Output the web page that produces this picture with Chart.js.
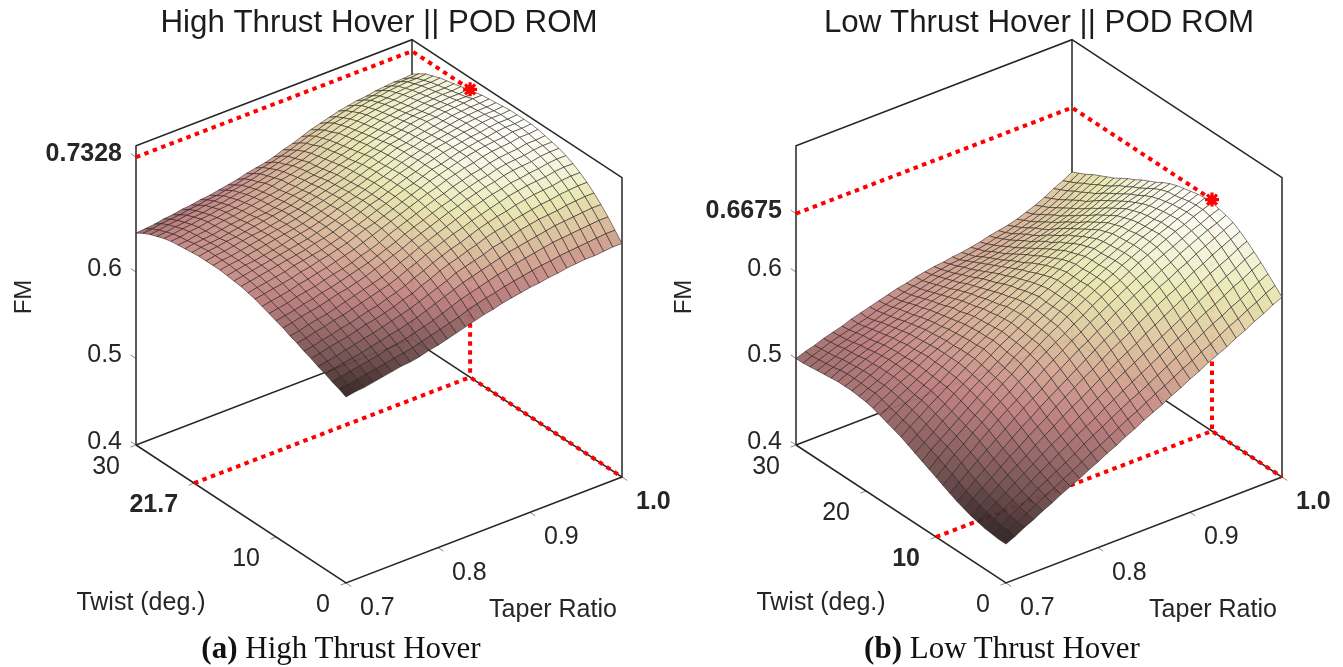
<!DOCTYPE html>
<html><head><meta charset="utf-8">
<script src="https://cdn.jsdelivr.net/npm/chart.js@4"></script>
<style>
html,body{margin:0;padding:0;background:#fff;width:1343px;height:667px;overflow:hidden}
canvas{position:absolute;top:0}
.cap{position:absolute;top:630px;font:31px "Liberation Serif",serif;color:#111;white-space:nowrap;transform:translateX(-50%)}
</style></head><body>
<canvas id="a" width="683" height="667" style="left:0;width:683px;height:667px"></canvas>
<canvas id="b" width="683" height="667" style="left:660px;width:683px;height:667px"></canvas>
<div class="cap" style="left:341px"><b>(a)</b> High Thrust Hover</div>
<div class="cap" style="left:1002px"><b>(b)</b> Low Thrust Hover</div>
<script>
const taperRatio=[0.70,0.71,0.72,0.73,0.74,0.75,0.76,0.77,0.78,0.79,0.80,0.81,0.82,0.83,0.84,0.85,0.86,0.87,0.88,0.89,0.90,0.91,0.92,0.93,0.94,0.95,0.96,0.97,0.98,0.99,1.00];
const twistDeg=[0,1,2,3,4,5,6,7,8,9,10,11,12,13,14,15,16,17,18,19,20,21,22,23,24,25,26,27,28,29,30];
// FM x 1000, one row per twist value, one column per taper ratio
const highThrustFM=[
[615,617,618,620,622,624,626,627,629,632,634,637,640,643,646,649,651,654,656,658,660,661,663,664,666,667,668,668,669,670,670],
[619,620,622,624,626,628,630,632,634,637,640,643,646,649,653,656,659,661,664,666,668,670,672,673,675,676,677,678,679,680,680],
[622,624,626,628,630,632,635,637,639,642,645,648,652,656,660,663,666,669,672,674,677,679,681,683,685,686,687,688,689,690,690],
[626,628,630,632,634,637,639,642,644,647,650,654,658,662,666,670,673,676,679,682,685,687,689,691,693,695,696,697,698,699,699],
[629,631,633,636,638,641,643,646,649,652,655,659,663,667,671,676,679,682,685,689,691,694,697,699,701,702,703,705,706,707,707],
[633,635,638,640,642,645,648,650,653,656,660,663,668,672,677,681,684,688,691,695,698,700,703,705,707,709,710,712,713,714,714],
[636,638,641,643,646,648,651,654,656,660,663,667,672,676,681,685,689,692,696,700,703,706,708,711,713,715,716,717,719,720,720],
[640,642,645,647,650,652,655,658,661,664,667,671,676,680,685,689,693,697,700,704,707,710,713,716,718,720,721,722,724,725,725],
[643,645,648,650,652,655,658,661,664,667,670,674,679,683,688,692,696,700,704,708,711,714,717,719,722,723,725,726,728,729,729],
[647,649,652,654,656,659,662,664,667,670,674,678,682,686,691,695,699,703,707,710,714,717,720,722,725,727,728,729,731,732,732],
[650,652,654,657,659,662,664,667,670,673,676,680,684,688,693,697,701,705,709,712,716,719,722,724,727,729,730,731,733,734,734],
[653,655,657,660,662,664,667,670,672,675,679,682,686,691,695,699,703,707,711,714,718,721,724,726,729,731,732,733,735,735,736],
[656,658,660,662,665,667,670,672,675,678,681,685,689,693,697,701,705,709,713,716,720,723,726,728,731,733,734,735,737,737,738],
[659,661,663,665,667,670,672,675,677,680,683,687,691,694,698,702,706,710,714,718,721,724,727,730,732,734,735,736,738,738,739],
[661,663,665,667,669,672,674,676,678,681,684,688,691,695,699,703,707,711,714,718,722,724,727,730,732,734,735,737,738,738,739],
[663,665,667,669,671,673,675,677,680,682,685,689,692,696,700,703,707,711,715,718,722,725,728,730,732,734,735,737,738,738,739],
[664,666,668,670,672,674,676,678,680,683,686,689,693,696,700,703,707,711,715,718,722,725,728,730,732,734,735,737,738,738,739],
[665,667,669,670,672,674,676,679,681,683,686,689,693,696,699,703,707,710,714,718,721,724,727,729,731,733,735,736,737,737,738],
[666,668,669,671,673,675,677,679,681,683,686,689,692,696,699,702,706,710,713,717,721,723,726,728,730,732,734,735,736,736,737],
[666,668,669,671,673,675,677,679,681,683,686,689,692,695,698,701,705,709,712,716,720,722,725,727,729,731,733,734,735,735,736],
[666,668,669,671,673,675,676,678,680,683,685,688,691,694,697,700,704,708,712,715,719,721,724,726,729,730,732,733,734,735,735],
[666,668,669,671,672,674,676,678,680,682,684,687,690,693,696,699,703,706,710,713,717,720,722,725,727,728,730,731,732,732,733],
[665,667,668,669,671,673,675,677,678,680,683,686,688,691,694,697,701,704,708,712,715,718,720,723,725,726,728,729,730,730,731],
[664,666,667,668,670,672,673,675,677,679,681,684,687,690,692,695,699,703,706,710,713,716,719,721,723,724,726,727,728,728,729],
[663,664,666,667,669,671,672,674,676,678,680,682,685,688,691,693,697,701,704,708,711,714,717,719,721,722,724,725,726,726,727],
[662,663,665,666,668,669,671,672,674,676,678,681,684,686,689,692,695,699,702,706,709,712,715,717,719,720,722,723,724,724,725],
[660,661,663,664,666,667,669,670,672,674,676,679,681,684,687,689,693,697,700,704,707,710,713,715,717,718,720,721,722,722,723],
[657,658,660,661,663,664,666,667,669,671,673,675,678,681,683,686,690,693,697,700,704,707,710,712,714,715,717,718,719,719,720],
[654,655,657,658,660,661,663,664,666,668,670,672,675,677,680,683,686,690,694,697,701,703,706,709,711,712,714,715,716,716,717],
[650,651,653,654,655,657,658,660,661,663,665,668,670,673,675,678,681,685,689,692,696,699,702,704,706,707,709,710,711,711,712],
[645,646,647,649,650,652,653,655,656,658,660,662,665,667,669,672,676,679,683,687,690,693,696,698,700,701,703,704,705,705,706]];
const lowThrustFM=[
[445,450,456,461,467,472,478,483,488,494,499,505,510,516,521,527,532,537,543,548,554,559,565,570,575,581,586,592,597,603,608],
[445,451,457,463,469,475,480,486,492,498,504,509,515,521,527,532,538,544,549,555,561,566,572,577,583,589,594,600,605,611,616],
[446,452,459,465,471,478,484,490,496,502,509,515,521,527,533,539,544,550,556,562,568,574,579,585,591,596,602,607,613,619,624],
[447,454,461,468,474,481,488,494,501,507,514,520,526,533,539,545,551,557,563,569,575,581,587,593,599,604,610,616,621,627,632],
[449,456,464,471,478,485,492,499,506,512,519,526,532,539,545,552,558,564,570,576,582,588,594,600,606,612,617,623,628,634,639],
[451,459,466,474,482,489,496,504,511,518,525,532,538,545,552,558,565,571,577,584,590,596,602,608,613,619,625,630,635,641,646],
[454,462,470,478,486,494,501,509,516,523,531,538,545,552,558,565,572,578,584,591,597,603,609,614,620,626,631,637,642,647,652],
[457,465,474,482,490,498,506,514,521,529,536,543,550,557,564,571,578,584,590,597,603,609,615,620,626,631,637,642,647,652,657],
[461,470,478,487,495,503,511,519,527,534,541,549,556,563,570,576,583,589,596,602,608,614,619,625,630,636,641,646,651,655,660],
[465,474,483,491,500,508,516,524,531,539,546,554,561,568,575,581,588,594,600,606,612,618,623,629,634,639,644,649,653,658,662],
[469,478,487,495,504,512,520,528,535,543,550,558,565,572,578,585,591,598,604,610,615,621,627,632,637,642,647,651,656,660,664],
[473,482,491,499,507,515,523,531,539,546,554,561,568,575,581,588,594,600,606,612,617,623,628,633,638,643,647,652,656,660,664],
[477,486,494,502,510,518,526,534,541,548,556,563,569,576,582,589,595,601,607,612,618,623,628,633,638,642,647,651,655,659,663],
[481,489,497,506,513,521,529,536,543,550,557,564,570,577,583,589,595,601,606,612,617,622,627,632,637,641,645,650,654,657,661],
[485,493,501,509,516,524,531,538,545,552,559,565,571,578,584,589,595,601,606,611,617,621,626,631,635,640,644,648,652,655,659],
[489,497,504,512,519,526,533,540,547,554,560,566,572,578,584,590,595,601,606,611,616,621,625,630,634,638,642,646,650,654,657],
[492,499,507,514,521,527,534,541,547,553,559,565,571,577,583,588,593,599,604,609,613,618,623,627,631,635,639,643,647,651,654],
[495,502,509,515,522,528,535,541,547,553,559,564,570,576,581,586,591,596,601,606,610,615,619,624,628,632,636,639,643,647,650],
[498,504,511,517,523,529,535,541,546,552,558,563,568,573,578,583,588,593,598,602,607,611,615,619,623,627,631,635,638,642,645],
[501,507,513,519,524,530,536,541,546,551,557,562,567,571,576,581,585,589,594,598,602,606,610,614,618,622,626,630,634,637,641],
[503,509,514,520,525,530,535,540,545,550,555,560,564,569,573,578,582,586,590,594,598,602,606,609,613,617,621,625,629,633,637],
[504,509,514,520,525,529,534,539,544,548,553,557,562,566,570,574,578,582,585,589,593,596,600,604,607,611,615,620,624,628,632],
[505,510,515,520,525,529,534,538,543,547,551,556,560,564,567,571,575,578,581,585,588,592,595,599,602,606,610,615,619,624,628],
[505,510,515,519,524,528,532,537,541,545,549,553,557,561,564,568,571,574,577,580,583,587,590,593,597,600,604,609,614,618,623],
[505,510,514,519,523,527,531,535,539,543,547,550,554,558,561,564,567,570,572,575,578,581,584,587,591,595,599,603,608,613,618],
[504,509,513,517,521,525,529,533,537,540,544,548,551,554,557,560,563,566,568,570,573,577,579,582,586,589,594,599,604,609,614],
[503,507,512,516,520,523,527,531,534,538,542,545,548,551,554,557,559,562,564,566,569,572,575,578,581,585,589,594,599,604,610],
[502,506,510,515,518,522,525,529,532,536,539,542,545,548,551,553,556,558,560,562,564,567,570,573,576,580,584,589,595,600,606],
[501,505,509,513,516,520,523,526,530,533,536,539,542,545,548,550,552,554,555,557,560,563,565,568,571,575,579,584,590,595,601],
[500,504,508,512,515,518,521,524,528,531,534,537,540,542,545,547,549,550,552,554,556,559,561,564,567,570,575,580,586,591,597],
[500,504,507,511,514,517,521,524,527,530,533,536,538,541,543,545,546,548,549,551,553,556,558,560,563,567,571,576,582,587,593]];
const fmTicksHigh=[0.4,0.5,0.6,0.7328];
const fmTicksLow=[0.4,0.5,0.6,0.6675];
const twistTicksHigh=[0,10,21.7,30];
const twistTicksLow=[0,10,20,30];
const taperTicks=[0.7,0.8,0.9,1.0];
const taperTickLabels=['0.7','0.8','0.9','1.0'];
const optimumHigh={taper:1.0,twist:21.7,fm:0.7328};
const optimumLow={taper:1.0,twist:10,fm:0.6675};

const INK='#262626',FONT='"Liberation Sans",Arial,sans-serif';
const STOPS=[[0,45,30,30],[.125,110,75,75],[.25,152,102,102],[.37,192,128,128],[.5,210,165,145],[.625,222,200,160],[.75,231,230,175],[.875,243,243,215],[1,255,255,250]];
function colour(n){
  for(let k=1;k<STOPS.length;k++){ if(n<=STOPS[k][0]){
    const a=STOPS[k-1],b=STOPS[k],u=(n-a[0])/(b[0]-a[0]);
    return `rgba(${[1,2,3].map(c=>Math.round(a[c]+(b[c]-a[c])*u)).join(',')},0.96)`;
  }}
  return 'rgba(255,255,250,0.96)';
}
const RX=276,LX=210,UP=865,FR=106,BK=138,ZTOP=0.746;
function P(t,tw,z){const f=(t-0.7)/0.3,w=tw/30;return {x:f*RX-w*LX,y:z-(1-w)*BK/UP+f*FR/UP};}

function build(cfg){
  const Z=cfg.fm,all=Z.flat(),mn=Math.min(...all),mx=Math.max(...all);
  const ds=[];
  const seg=(pts,color,width,dash)=>({type:'line',data:pts,borderColor:color,borderWidth:width,borderDash:dash||[],pointRadius:0,fill:false,clip:false,tension:0,spanGaps:true});
  const op=cfg.opt;
  ds.push({type:'line',data:[P(op.taper,op.twist,op.fm)],showLine:false,pointStyle:'star',pointRadius:7,pointBorderColor:'#ff0000',pointBorderWidth:3.2,pointBackgroundColor:'#ff0000',clip:false});
  const cells=[];
  for(let j=0;j<30;j++)for(let i=0;i<30;i++)cells.push([i,j]);
  cells.sort((p,q)=>(p[0]+p[1])-(q[0]+q[1]));
  for(const [i,j] of cells){
    const c=[[i,j],[i+1,j],[i+1,j+1],[i,j+1],[i,j]];
    const avg=(Z[j][i]+Z[j][i+1]+Z[j+1][i]+Z[j+1][i+1])/4;
    ds.push({type:'line',data:c.map(([a,b])=>P(taperRatio[a],twistDeg[b],Z[b][a]/1000)),fill:'shape',backgroundColor:colour((avg-mn)/(mx-mn)),
      borderColor:'rgba(35,28,28,0.62)',borderWidth:0.9,pointRadius:0,clip:false,tension:0,spanGaps:true});
  }
  const R='#ff0000',dot=[4.5,4.5];
  ds.push(seg([P(0.7,30,op.fm),P(1,30,op.fm),P(op.taper,op.twist,op.fm)],R,4,dot));
  ds.push(seg([P(op.taper,op.twist,op.fm),P(op.taper,op.twist,0.4)],R,4,dot));
  ds.push(seg([P(0.7,op.twist,0.4),P(op.taper,op.twist,0.4),P(1,0,0.4)],R,4,dot));
  // box
  const B=INK,bw=1.5;
  ds.push(seg([P(1,0,0.4),P(1,0,ZTOP),P(1,30,ZTOP),P(0.7,30,ZTOP),P(0.7,30,0.4)],B,bw));
  ds.push(seg([P(1,30,0.4),P(1,30,ZTOP)],B,bw));
  ds.push(seg([P(0.7,30,0.4),P(1,30,0.4),P(1,0,0.4),P(0.7,0,0.4),P(0.7,30,0.4)],B,bw));
  // ticks
  const T='#8a8a8a';
  for(const v of cfg.fmTicks) ds.push(seg([P(0.7,30,v),P(0.7,30.75,v)],T,1));
  for(const v of cfg.twistTicks) ds.push(seg([P(0.7,v,0.4),P(0.694,v,0.4)],T,1));
  for(const v of taperTicks) ds.push(seg([P(v,0,0.4),P(v,-0.75,0.4)],T,1));

  const labels={id:'labels3d',afterDraw(ch){
    const c=ch.ctx,x=ch.scales.x,y=ch.scales.y;
    const at=(p)=>[x.getPixelForValue(p.x),y.getPixelForValue(p.y)];
    const put=(s,px,py,al,bold,size)=>{c.font=(bold?'bold ':'')+size+'px '+FONT;c.textAlign=al;c.textBaseline='middle';c.fillStyle=INK;c.fillText(s,px,py);};
    c.save();
    cfg.twistTicks.forEach(v=>{const [a,b]=at(P(0.7,v,0.4));put(String(v),a-16,b+22,'right',v===op.twist,25);});
    taperTicks.forEach((v,k)=>{const [a,b]=at(P(v,0,0.4));put(taperTickLabels[k],a+14,b+25,'left',v===op.taper,25);});
    const m=at(P(0.7,15,0.4));put('Twist (deg.)',m[0]+cfg.twistDx,m[1]+89,'center',false,25);
    const n=at(P(0.85,0,0.4));put('Taper Ratio',n[0]+69,n[1]+80,'center',false,25);
    c.restore();
  }};
  new Chart(document.getElementById(cfg.id),{
    type:'line',data:{datasets:ds},plugins:[labels],
    options:{responsive:false,animation:false,events:[],normalized:false,
      layout:{padding:{left:0,top:0,right:61,bottom:115}},
      plugins:{legend:{display:false},tooltip:{enabled:false},
        title:{display:true,text:cfg.title,fullSize:false,color:'#1c1c1c',font:{family:FONT,size:31.3,weight:'normal',lineHeight:1.2},padding:{top:4.44,bottom:0}}},
      scales:{
        x:{type:'linear',display:false,min:-LX,max:RX},
        y:{type:'linear',position:'left',min:0.4-(552-445)/UP,max:0.4+(445-42)/UP,
          grid:{display:false,drawTicks:false},border:{display:false},
          afterFit(s){s.width=136;},
          afterBuildTicks(s){s.ticks=cfg.fmTicks.map(v=>({value:v}));},
          title:{display:true,text:'FM',color:INK,font:{family:FONT,size:24,weight:'normal'},padding:{top:10,bottom:0}},
          ticks:{padding:14,labelOffset:-3,autoSkip:false,color:INK,maxRotation:0,
            callback:v=>String(v),
            font:c=>({family:FONT,size:25,weight:c.tick&&c.tick.value===op.fm?'bold':'normal'})}
        }
      }
    }
  });
}
build({id:'a',title:'High Thrust Hover || POD ROM',fm:highThrustFM,opt:optimumHigh,fmTicks:fmTicksHigh,twistTicks:twistTicksHigh,twistDx:-100});
build({id:'b',title:'Low Thrust Hover || POD ROM',fm:lowThrustFM,opt:optimumLow,fmTicks:fmTicksLow,twistTicks:twistTicksLow,twistDx:-80});
</script>
</body></html>
